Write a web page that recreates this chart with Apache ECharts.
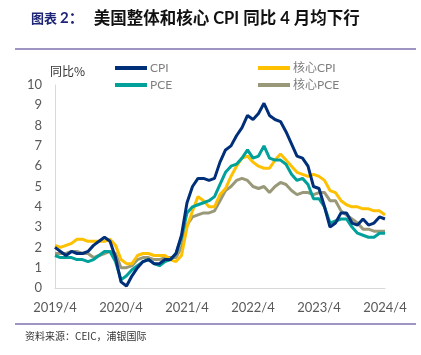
<!DOCTYPE html>
<html><head><meta charset="utf-8">
<script src="https://cdn.jsdelivr.net/npm/echarts@6/dist/echarts.min.js"></script>
<style>html,body{margin:0;padding:0;background:#fff}#c{width:421px;height:355px}</style>
</head><body><div id="c"></div>
<script>
// months 2019/4 .. 2024/4
const categories = [];
for (let y = 2019, m = 4; y < 2024 || (y === 2024 && m <= 4); ) {
  categories.push(y + '/' + m);
  m++; if (m > 12) { m = 1; y++; }
}
const yTicks = [0,1,2,3,4,5,6,7,8,9,10];
const cpi = [2.0,1.8,1.6,1.8,1.7,1.7,1.8,2.1,2.3,
  2.5,2.3,1.5,0.3,0.1,0.6,1.0,1.3,1.4,1.2,1.2,1.4,
  1.4,1.7,2.6,4.2,5.0,5.4,5.4,5.3,5.4,6.2,6.8,7.0,
  7.5,7.9,8.5,8.3,8.6,9.1,8.5,8.3,8.2,7.7,7.1,6.5,
  6.4,6.0,5.0,4.9,4.0,3.0,3.2,3.7,3.7,3.2,3.1,3.4,
  3.1,3.2,3.5,3.4];
const coreCpi = [2.1,2.0,2.1,2.2,2.4,2.4,2.3,2.3,2.3,
  2.3,2.4,2.1,1.4,1.2,1.2,1.6,1.7,1.7,1.6,1.6,1.6,
  1.4,1.3,1.6,3.0,3.8,4.5,4.3,4.0,4.0,4.6,4.9,5.5,
  6.0,6.4,6.5,6.2,6.0,5.9,5.9,6.3,6.6,6.3,6.0,5.7,
  5.6,5.5,5.6,5.5,5.3,4.8,4.7,4.3,4.1,4.0,4.0,3.9,
  3.9,3.8,3.8,3.6];
const pce = [1.6,1.5,1.5,1.5,1.4,1.4,1.3,1.4,1.6,
  1.8,1.8,1.3,0.4,0.6,0.9,1.1,1.3,1.4,1.2,1.1,1.3,
  1.4,1.7,2.5,3.7,4.0,4.1,4.2,4.3,4.5,5.1,5.7,6.0,
  6.1,6.4,6.8,6.4,6.5,7.0,6.4,6.3,6.3,6.1,5.6,5.3,
  5.4,5.1,4.4,4.4,4.0,3.2,3.3,3.4,3.4,3.0,2.7,2.6,
  2.5,2.5,2.7,2.7];
const corePce = [1.7,1.7,1.7,1.8,1.8,1.7,1.7,1.5,1.6,
  1.7,1.8,1.7,1.0,1.0,1.1,1.4,1.5,1.5,1.4,1.4,1.5,
  1.5,1.5,2.0,3.1,3.5,3.6,3.7,3.7,3.8,4.3,4.8,5.0,
  5.3,5.4,5.3,5.0,4.9,5.0,4.7,5.0,5.2,5.1,4.8,4.6,
  4.7,4.7,4.6,4.7,4.7,4.3,4.3,3.8,3.6,3.4,3.2,2.9,
  2.9,2.8,2.8,2.8];
const seriesNames = ['CPI','核心CPI','PCE','核心PCE'];
const colors = ['#002F7A','#FFC000','#00A19A','#99997A'];
const FONT = 'Lato, "Noto Sans CJK SC", sans-serif';

const chart = echarts.init(document.getElementById('c'), null, {renderer:'canvas'});
const dataSets = [cpi, coreCpi, pce, corePce];
const legendStyle = {
  orient:'vertical', icon:'rect', itemWidth:32, itemHeight:4, itemGap:5,
  textStyle:{color:'#7F7F7F', fontSize:12, fontFamily:FONT, padding:[0,0,0,-2]}
};
chart.setOption({
  animation:false,
  title:{
    text:'{a|图表 }{n|2：}{s| }{b|美国整体和核心 CPI 同比 4 月均下行}',
    left:26, top:5,
    textStyle:{rich:{
      a:{color:'#1F2677', fontSize:13, fontWeight:'bold', fontFamily:'"Noto Sans CJK SC", sans-serif'},
      n:{color:'#1F2677', fontSize:15, fontWeight:'bold', fontFamily:FONT},
      s:{fontSize:8, width:10},
      b:{color:'#111', fontSize:16.5, fontWeight:'bold', fontFamily:FONT}
    }}
  },
  legend:[
    Object.assign({left:110, top:57, data:['CPI','PCE']}, legendStyle),
    Object.assign({left:253, top:57, data:['核心CPI','核心PCE']}, legendStyle)
  ],
  grid:{left:55, right:36, top:85, bottom:67, containLabel:false},
  xAxis:{
    type:'category', data:categories, boundaryGap:false,
    axisLine:{lineStyle:{color:'#D9D9D9', width:1}},
    axisTick:{show:false},
    axisLabel:{interval:11, color:'#595959', fontSize:13, fontFamily:FONT, margin:13}
  },
  yAxis:{
    type:'value', min:yTicks[0], max:yTicks[yTicks.length-1], interval:1,
    axisLine:{show:true, lineStyle:{color:'#D9D9D9', width:1}},
    axisTick:{show:false},
    splitLine:{show:false},
    axisLabel:{color:'#595959', fontSize:13, fontFamily:FONT, margin:13}
  },
  series: seriesNames.map((n,i)=>({
    name:n, type:'line', data:dataSets[i], showSymbol:false, symbol:'none',
    lineStyle:{color:colors[i], width:3}, itemStyle:{color:colors[i]},
    z: [5,3,4,2][i]
  })),
  graphic:[
    {type:'line', shape:{x1:15, y1:49, x2:416, y2:49}, style:{stroke:'#7E72AE', lineWidth:1.5}},
    {type:'line', shape:{x1:15, y1:324, x2:416, y2:324}, style:{stroke:'#7E72AE', lineWidth:1.5}},
    {type:'text', left:50, top:65, style:{text:'同比%', fill:'#333', font:'12px "Noto Sans CJK SC", sans-serif'}},
    {type:'text', left:25, top:331, style:{text:'资料来源：CEIC，浦银国际', fill:'#333', font:'10px "Noto Sans CJK SC", sans-serif'}}
  ]
});
</script></body></html>
